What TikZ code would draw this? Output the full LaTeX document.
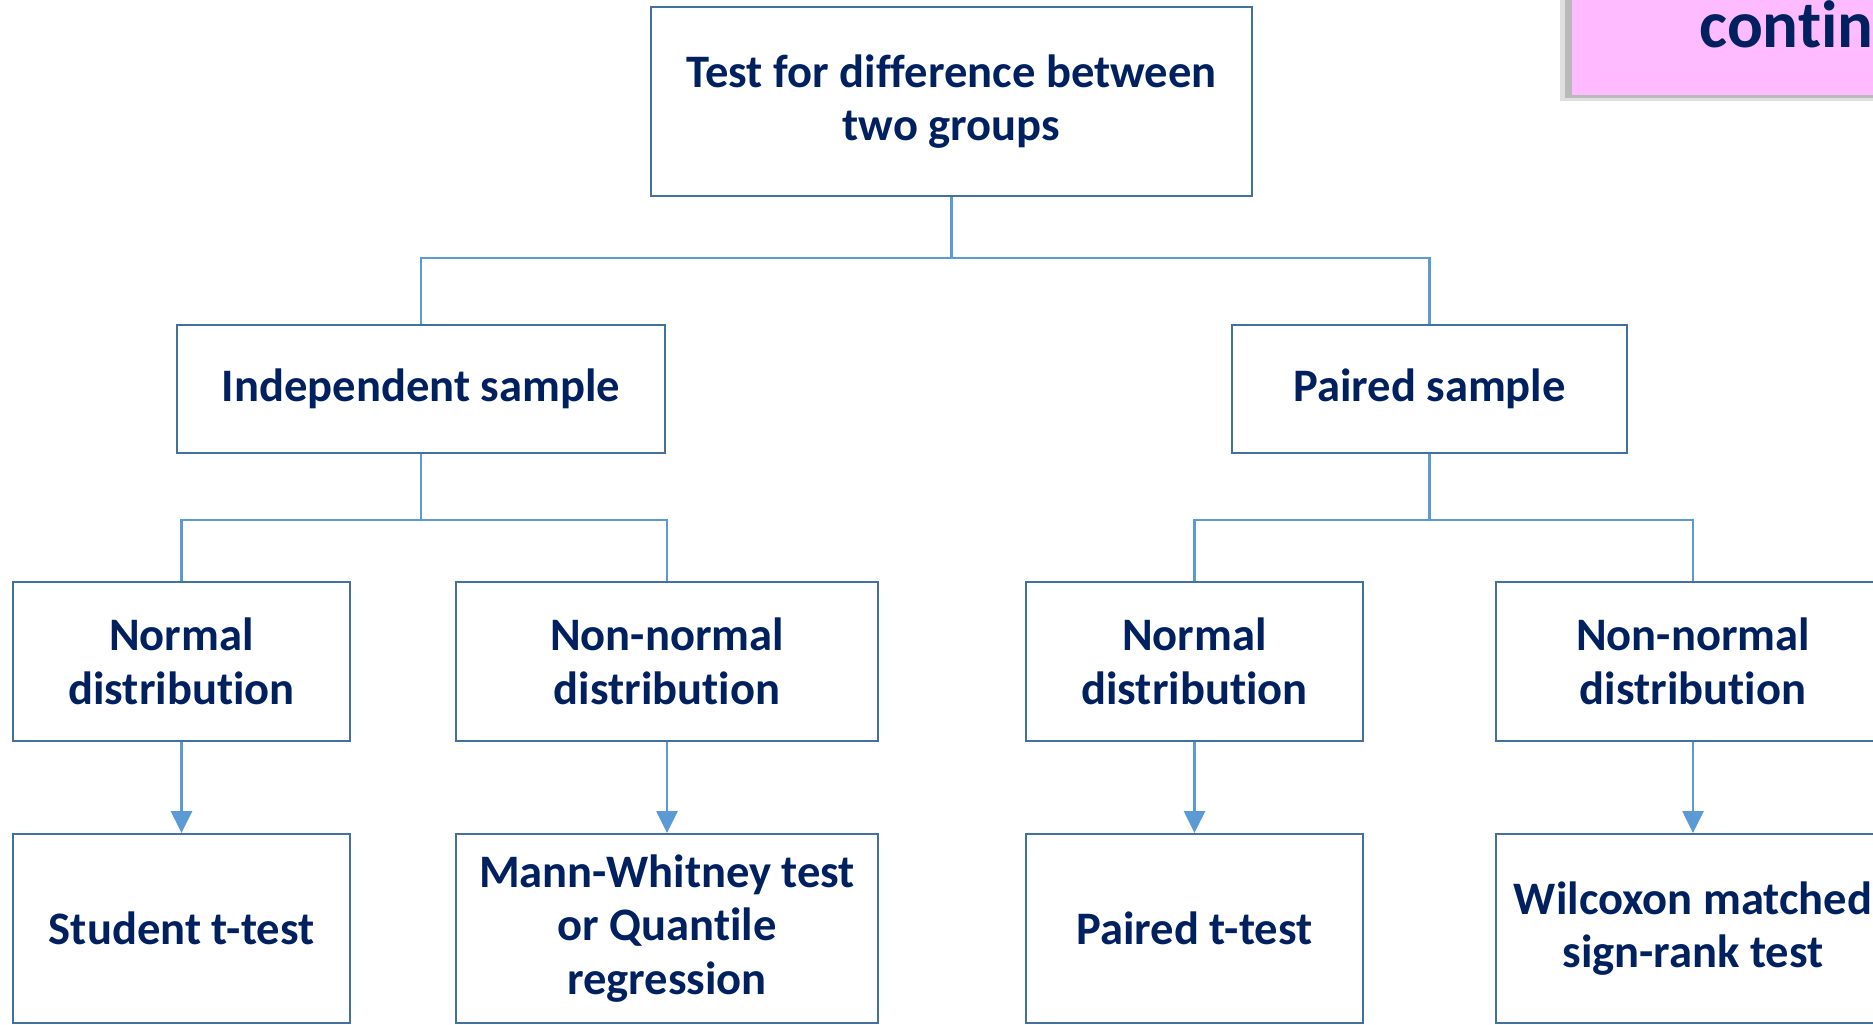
\documentclass[tikz,border=0pt]{standalone}
\usepackage{fontspec}
\setmainfont[Ligatures=CommonOff]{Carlito}
\usetikzlibrary{arrows.meta,positioning}
\definecolor{boxline}{HTML}{41719C}
\definecolor{linkline}{HTML}{5B9BD5}
\definecolor{labeltext}{HTML}{002060}
\definecolor{notepink}{HTML}{FFBBFF}

\begin{document}
\begin{tikzpicture}[>={Triangle[width=0.42cm,length=0.44cm]},
  testbox/.style={draw=boxline, line width=1.1pt, text=labeltext,
    font=\fontsize{26.5}{30.5}\selectfont\bfseries, align=center, inner sep=0pt},
  link/.style={linkline, line width=1.5pt}]

  \useasboundingbox (0,0) rectangle (37.46,-20.5);
  \clip (0,0) rectangle (37.46,-20.5);

  % ============== Corner note (cut off) ==============
  \fill[gray!25] (31.2,0.2) rectangle (37.6,-2.02);
  \fill[gray!55] (31.3,0.2) rectangle (37.6,-1.96);
  \fill[notepink] (31.44,0.2) rectangle (37.6,-1.9);
  \node[anchor=base west, text=labeltext, inner sep=0pt,
    font=\fontsize{38}{40}\selectfont\bfseries] (note) at (33.98,-0.96) {contin};

  % ============== Top ==============
  \node[testbox, minimum width=12.02cm, minimum height=3.78cm] (top) at (19.03,-2.03)
    {Test for difference between\\two groups};

  % ============== Sample type ==============
  \node[testbox, minimum width=9.76cm, minimum height=2.56cm] (indep) at (8.42,-7.78)
    {Independent sample};
  \node[testbox, minimum width=7.9cm, minimum height=2.56cm] (paired) at (28.59,-7.78)
    {Paired sample};

  % ============== Distribution ==============
  \node[testbox, minimum width=6.74cm, minimum height=3.18cm] (normL) at (3.63,-13.23)
    {Normal\\distribution};
  \node[testbox, minimum width=8.44cm, minimum height=3.18cm] (nonL) at (13.34,-13.23)
    {Non-normal\\distribution};
  \node[testbox, minimum width=6.74cm, minimum height=3.18cm] (normR) at (23.89,-13.23)
    {Normal\\distribution};
  \node[testbox, minimum width=7.88cm, minimum height=3.18cm] (nonR) at (33.86,-13.23)
    {Non-normal\\distribution};

  % ============== Tests ==============
  \node[testbox, minimum width=6.74cm, minimum height=3.78cm] (student) at (3.63,-18.57)
    {Student t-test};
  \node[testbox, minimum width=8.44cm, minimum height=3.78cm] (mann) at (13.34,-18.57)
    {Mann-Whitney test\\or Quantile\\regression};
  \node[testbox, minimum width=6.74cm, minimum height=3.78cm] (pairedt) at (23.89,-18.57)
    {Paired t-test};
  \node[testbox, minimum width=7.88cm, minimum height=3.78cm] (wilcox) at (33.86,-18.57)
    {Wilcoxon matched\\sign-rank test};

  % Tree connectors
  \draw[link] (top.south) -- (top.south |- 0,-5.16) coordinate (topfork);
  \draw[link] (topfork) -| (indep.north);
  \draw[link] (topfork) -| (paired.north);

  \draw[link] (indep.south) -- (indep.south |- 0,-10.4) coordinate (indepfork);
  \draw[link] (indepfork) -| (normL.north);
  \draw[link] (indepfork) -| (nonL.north);

  \draw[link] (paired.south) -- (paired.south |- 0,-10.4) coordinate (pairedfork);
  \draw[link] (pairedfork) -| (normR.north);
  \draw[link] (pairedfork) -| (nonR.north);

  % Arrows to tests
  \draw[link, ->] (normL.south) -- (student.north);
  \draw[link, ->] (nonL.south) -- (mann.north);
  \draw[link, ->] (normR.south) -- (pairedt.north);
  \draw[link, ->] (nonR.south) -- (wilcox.north);

\end{tikzpicture}
\end{document}
